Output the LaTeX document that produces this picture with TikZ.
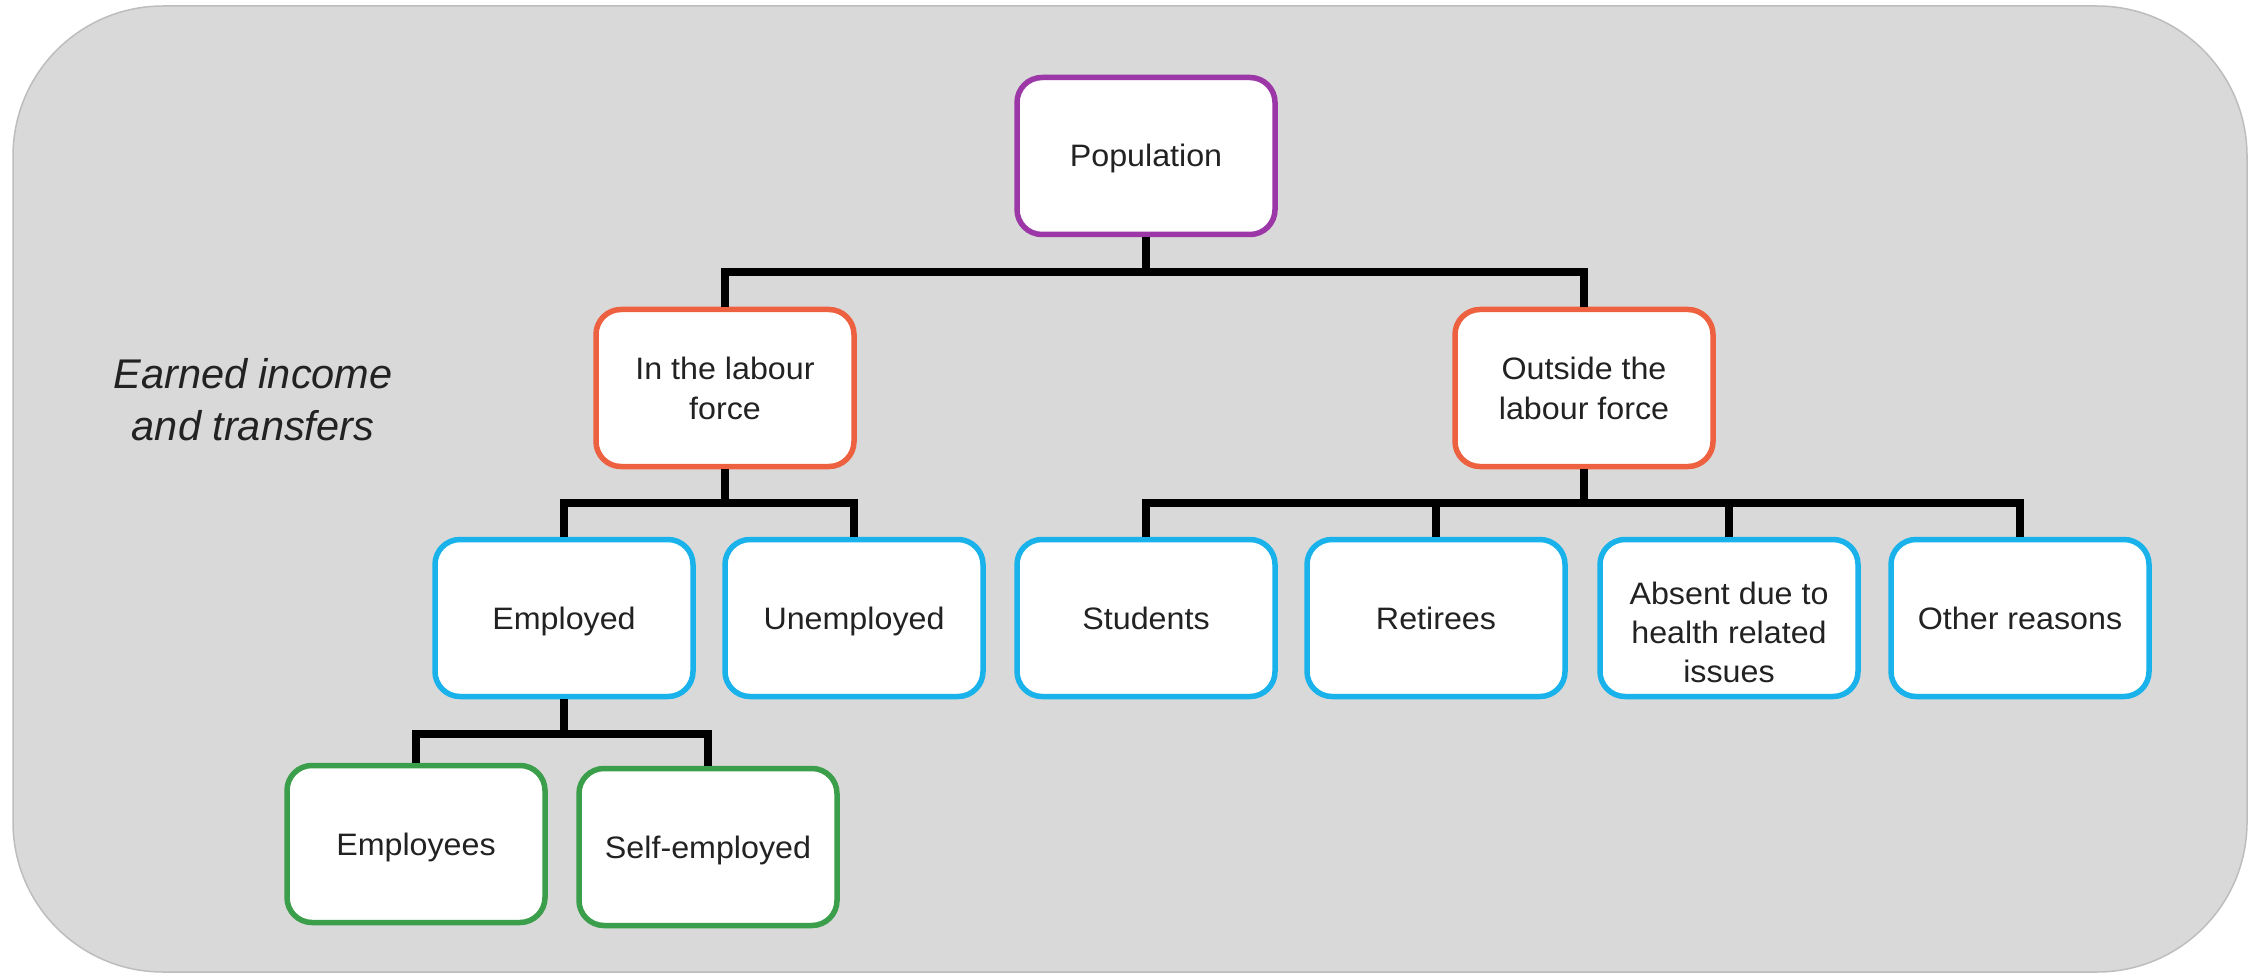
\documentclass[tikz,border=0pt]{standalone}
\usepackage{fontspec}
\setmainfont[FakeStretch=1.04]{Liberation Sans}
\newfontfamily\notefont{Liberation Sans}
\definecolor{bggray}{HTML}{D9D9D9}
\definecolor{bgedge}{HTML}{BDBDBD}
\definecolor{cpurple}{HTML}{9C37A8}
\definecolor{corange}{HTML}{EE6140}
\definecolor{cblue}{HTML}{1AB2EA}
\definecolor{cgreen}{HTML}{3A9E4A}
\definecolor{txt}{HTML}{222222}
\newcommand{\topstrut}{\rule{0pt}{31pt}}
\newcommand{\botstrut}{\rule[-9pt]{0pt}{9pt}}
\newcommand{\tallstrut}{\rule{0pt}{51pt}}
\begin{document}
\begin{tikzpicture}[x=1pt,y=-1pt,
  box/.style={draw, fill=white, line width=5.5pt, rounded corners=25pt,
    minimum width=258pt, minimum height=157pt, align=center, inner sep=0pt,
    font=\fontsize{31}{40}\selectfont, text=txt},
  oneline/.style={execute at begin node={\topstrut}, execute at end node={\botstrut}},
  lvlA/.style={box, draw=cpurple},
  lvlB/.style={box, draw=corange},
  lvlC/.style={box, draw=cblue},
  lvlD/.style={box, draw=cgreen},
  conn/.style={line width=8pt, black, line join=miter},
  sidenote/.style={align=center, text=txt, font=\notefont\fontsize{41.5}{52}\selectfont\itshape}]
\useasboundingbox (0,0) rectangle (2256,973);
\fill[bggray, draw=bgedge, line width=1.5pt, rounded corners=150pt] (13,6) rectangle (2247,972);

\node[sidenote] (note) at (253,400) {Earned income\\and transfers};

\node[lvlA, oneline] (pop) at (1146,156) {Population};
\node[lvlB] (lab) at (725,388) {In the labour\\force};
\node[lvlB] (out) at (1584,388) {Outside the\\labour force};
\node[lvlC, oneline] (emp) at (564,618) {Employed};
\node[lvlC, oneline] (unemp) at (854,618) {Unemployed};
\node[lvlC, oneline] (stu) at (1146,618) {Students};
\node[lvlC, oneline] (ret) at (1436,618) {Retirees};
\node[lvlC, font=\fontsize{31}{39}\selectfont] (abs) at (1729,618) {\tallstrut Absent due to\\health related\\issues};
\node[lvlC, oneline] (oth) at (2020,618) {Other reasons};
\node[lvlD, oneline] (emps) at (416,844) {Employees};
\node[lvlD, oneline] (self) at (708,847) {Self-employed};

\coordinate (b1) at (0,272);
\coordinate (b2) at (0,503);
\coordinate (b3) at (0,734);

% level 1
\draw[conn] (pop.south) -- (pop.south |- b1);
\draw[conn] (lab.north) |- (out.north |- b1) -- (out.north);
% labour force
\draw[conn] (lab.south) -- (lab.south |- b2);
\draw[conn] (emp.north) |- (unemp.north |- b2) -- (unemp.north);
% outside
\draw[conn] (out.south) -- (out.south |- b2);
\draw[conn] (stu.north) |- (oth.north |- b2) -- (oth.north);
\draw[conn] (ret.north) -- (ret.north |- b2);
\draw[conn] (abs.north) -- (abs.north |- b2);
% employed
\draw[conn] (emp.south) -- (emp.south |- b3);
\draw[conn] (emps.north) |- (self.north |- b3) -- (self.north);
\end{tikzpicture}
\end{document}
